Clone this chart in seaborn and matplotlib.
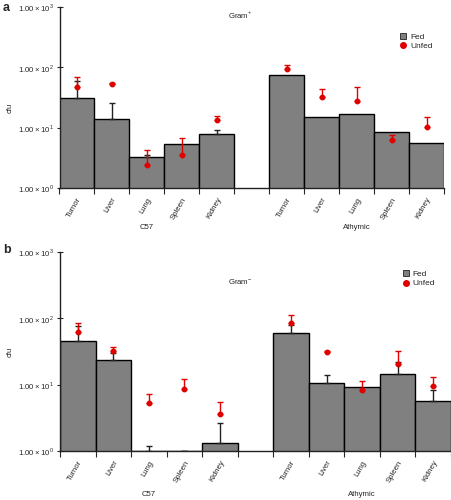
import numpy as np
import pandas as pd
import matplotlib
matplotlib.use("Agg")
import matplotlib.pyplot as plt
import seaborn as sns
from matplotlib.lines import Line2D

sns.set_style("white")
plt.rcParams['font.family'] = ['Liberation Sans', 'DejaVu Sans']
plt.rcParams['mathtext.fontset'] = 'custom'
plt.rcParams['mathtext.rm'] = 'Liberation Sans'

organs = ["Tumor", "Liver", "Lung", "Spleen", "Kidney"]
groups = ["C57", "Athymic"]

nan = float("nan")
# Panel a (Gram+)
a_fed = [31.4, 13.9, 3.3, 5.4, 7.95, 74.6, 15.0, 16.9, 8.4, 5.6]
a_fed_err = [59, 26, 3.5, nan, 9.3, nan, nan, nan, nan, nan]
a_unfed = [48, 52, 2.45, 3.5, 13.6, 95, 32.6, 27.7, 6.3, 10.1]
a_unfed_err = [70, 54, 4.3, 6.7, 15.4, 109, 43, 47, 7.55, 15]

# Panel b (Gram-)
b_fed = [45.4, 23.5, 1.0, 1.0, 1.34, 60.7, 10.7, 9.3, 14.3, 5.6]
b_fed_err = [76.6, 29.6, 1.2, 1.0, 2.65, 79, 13.9, nan, 21.6, 8.3]
b_unfed = [62.9, 31.7, 5.3, 8.75, 3.62, 85, 30.6, 8.35, 20.6, 9.4]
b_unfed_err = [86, 36.5, 7.35, 12.1, 5.4, 111, 32, 11.2, 32, 13.1]

ytick_vals = [1, 10, 100, 1000]
ytick_labels = [r"$1.00 \times 10^{0}$", r"$1.00 \times 10^{1}$",
                r"$1.00 \times 10^{2}$", r"$1.00 \times 10^{3}$"]

cats = [f"{g} {o}" for g in groups for o in organs]
order = cats[:5] + ["gap"] + cats[5:]
pos = [order.index(c) for c in cats]

GREY = "#808080"
RED = "#e00000"
FS = 5.6

fig = plt.figure(figsize=(4.52, 5.0), dpi=100)
ax_a = fig.add_axes([59.5 / 452, 1 - 188 / 500, (444 - 59.5) / 452, 181 / 500])
ax_b = fig.add_axes([60 / 452, 1 - 451 / 500, (451 - 60) / 452, 199 / 500])


def draw(ax, fed, fed_err, unfed, unfed_err, leg_xy):
    ax.set_yscale("log")
    df = pd.DataFrame({"cat": cats, "cfu": fed})
    sns.barplot(data=df, x="cat", y="cfu", order=order, color=GREY,
                saturation=1, width=1.0, edgecolor="black", linewidth=1.0,
                ax=ax, zorder=2)
    fed = np.array(fed); fed_err = np.array(fed_err)
    unfed = np.array(unfed); unfed_err = np.array(unfed_err)
    ok = ~np.isnan(fed_err)
    p = np.array(pos)
    ax.errorbar(p[ok], fed[ok], yerr=[np.zeros(ok.sum()), fed_err[ok] - fed[ok]],
                fmt="none", ecolor="#222222", elinewidth=1.0, capsize=2.4,
                capthick=1.0, zorder=3)
    ax.errorbar(pos, unfed, yerr=[np.zeros_like(unfed), unfed_err - unfed],
                fmt="o", color=RED, ms=3.2, ecolor=RED, elinewidth=1.0,
                capsize=2.4, capthick=1.0, zorder=4)
    ax.set_ylim(1, 1000)
    ax.set_xlim(-0.5, 10.5)
    ax.set_yticks(ytick_vals)
    ax.set_yticklabels(ytick_labels, fontsize=FS)
    ax.yaxis.set_minor_locator(matplotlib.ticker.NullLocator())
    ax.tick_params(axis="y", direction="inout", length=4, width=0.8, pad=2, left=True)
    bounds = [-0.5, 0.5, 1.5, 2.5, 3.5, 4.5, 5.5, 6.5, 7.5, 8.5, 9.5, 10.5]
    ax.set_xticks(bounds)
    ax.set_xticklabels([""] * len(bounds))
    ax.tick_params(axis="x", direction="out", length=4, width=0.8, bottom=True)
    ax.set_xticks(pos, minor=True)
    ax.set_xticklabels(organs + organs, minor=True, rotation=60, ha="right",
                       rotation_mode="anchor", fontsize=FS)
    ax.tick_params(axis="x", which="minor", length=0, pad=6)
    ax.set_xlabel("")
    ax.set_ylabel("")
    for s in ["top", "right"]:
        ax.spines[s].set_visible(False)
    for s in ["left", "bottom"]:
        ax.spines[s].set_color("#222222")
        ax.spines[s].set_linewidth(1.0)
    trans = matplotlib.transforms.blended_transform_factory(ax.transData, ax.transAxes)
    ax.text(2, -0.22, "C57", transform=trans, ha="center", va="center", fontsize=FS)
    ax.text(8, -0.22, "Athymic", transform=trans, ha="center", va="center", fontsize=FS)
    handles = [Line2D([], [], marker="s", ls="none", color=GREY, mec="#222222",
                      mew=0.6, ms=4.2, label="Fed"),
               Line2D([], [], marker="o", ls="none", color=RED, ms=4, label="Unfed")]
    ax.legend(handles=handles, loc="upper left", bbox_to_anchor=leg_xy,
              frameon=False, fontsize=FS + 0.4, handlelength=0.8, handletextpad=0.4,
              labelspacing=0.2, borderpad=0)
    ax.grid(False)


draw(ax_a, a_fed, a_fed_err, a_unfed, a_unfed_err, (0.875, 0.88))
draw(ax_b, b_fed, b_fed_err, b_unfed, b_unfed_err, (0.865, 0.93))

fig.text(228 / 452, 1 - 15 / 500, r"Gram$^{+}$", fontsize=FS, ha="left", va="center")
fig.text(228 / 452, 1 - 282 / 500, r"Gram$^{-}$", fontsize=FS, ha="left", va="center")
fig.text(3 / 452, 1 - 8 / 500, "a", fontsize=9, fontweight="bold", ha="left", va="center")
fig.text(3 / 452, 1 - 250 / 500, "b", fontsize=9, fontweight="bold", ha="left", va="center")
fig.text(10 / 452, 1 - 108 / 500, "cfu", fontsize=FS, rotation=90, ha="center", va="center")
fig.text(10 / 452, 1 - 352 / 500, "cfu", fontsize=FS, rotation=90, ha="center", va="center")

fig.savefig("out.png", dpi=100)
